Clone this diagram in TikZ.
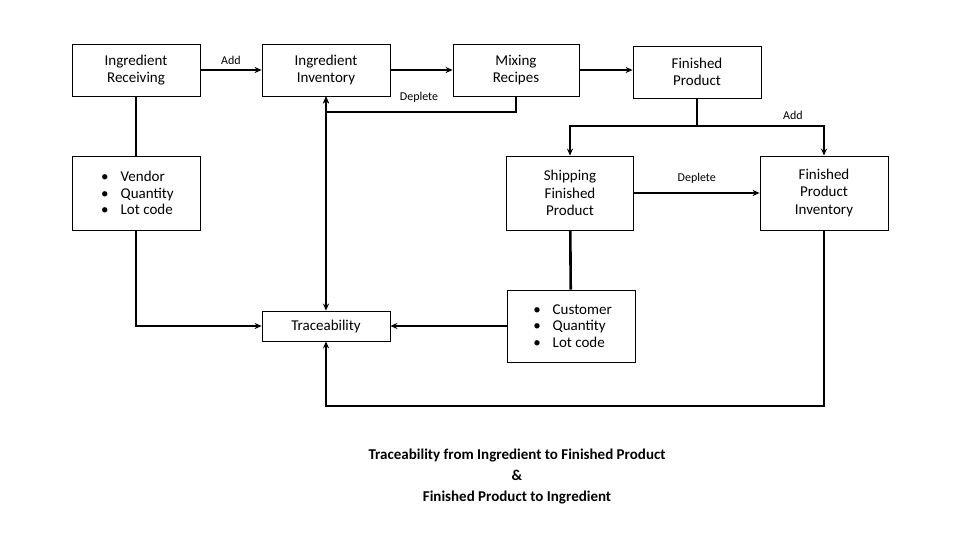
\documentclass[tikz,border=0pt]{standalone}
\usepackage{fontspec}
\setmainfont{Carlito}
\usetikzlibrary{arrows.meta, positioning, calc}
\begin{document}
\begin{tikzpicture}[
    x=1pt, y=-1pt,
    box/.style={draw, line width=0.8pt, rectangle, align=center, inner sep=0pt, font=\fontsize{15}{21.5}\selectfont},
    lbl/.style={font=\fontsize{12}{14}\selectfont},
    link/.style={line width=2.6pt},
    >={Stealth[length=7pt, width=6pt]}
]
    \useasboundingbox (0,0) rectangle (960,540);
    % Nodes
    \node[box, minimum width=128pt, minimum height=52pt] (recv) at (136,70) {Ingredient\\[-4pt]Receiving};
    \node[box, minimum width=128pt, minimum height=52pt] (inv) at (326,70) {Ingredient\\[-4pt]Inventory};
    \node[box, minimum width=126pt, minimum height=52pt] (mix) at (516,70) {Mixing\\[-4pt]Recipes};
    \node[box, minimum width=128pt, minimum height=52pt] (fp) at (697,72) {Finished\\[-4pt]Product};
    \node[box, minimum width=128pt, minimum height=74pt, align=left] (vend) at (136,193)
        {\hspace{3pt}\textbullet\hspace{12pt}Vendor\hspace{44pt}\\[-5pt]\hspace{3pt}\textbullet\hspace{12pt}Quantity\\[-5pt]\hspace{3pt}\textbullet\hspace{12pt}Lot code};
    \node[box, minimum width=127pt, minimum height=74pt] (ship) at (570,193) {Shipping\\[-4pt]Finished\\[-4pt]Product};
    \node[box, minimum width=128pt, minimum height=74pt] (fpi) at (824,193) {Finished\\[-4pt]Product\\[-4pt]Inventory};
    \node[box, minimum width=128pt, minimum height=30pt] (trace) at (326,326) {Traceability};
    \node[box, minimum width=128pt, minimum height=72pt, align=left] (cust) at (571,326)
        {\hspace{3pt}\textbullet\hspace{12pt}Customer\hspace{30pt}\\[-5pt]\hspace{3pt}\textbullet\hspace{12pt}Quantity\\[-5pt]\hspace{3pt}\textbullet\hspace{12pt}Lot code};
    \node[font=\bfseries\fontsize{15}{21}\selectfont, align=center] (title) at (517,477)
        {Traceability from Ingredient to Finished Product\\\&\\Finished Product to Ingredient};

    % Connections
    \draw[link] (recv) -- (vend);
    \draw[link, ->] (recv) -- (inv) node[lbl, midway, above=1pt] {Add};
    \draw[link, ->] (inv) -- (mix);
    \draw[link, ->] (mix.east) -- (fp.west |- mix.east);
    \draw[link, ->] (mix.south) |- (326,112) -- (inv.south);
    \node[lbl] (dep1) at (419,97) {Deplete};
    \draw[link, <->] (inv.south) -- (trace.north);
    \draw[link] (fp.south) -- (697,126) coordinate (split);
    \draw[link, ->] (split) -| (ship.north);
    \draw[link, ->] (split) -| (fpi.north);
    \node[lbl] (add2) at (793,115) {Add};
    \draw[link, ->] (ship) -- (fpi) node[lbl, midway, above=5pt] {Deplete};
    \draw[link] (ship) -- (cust);
    \draw[link, ->] (cust) -- (trace);
    \draw[link, ->] (vend.south) |- (trace.west);
    \draw[link, ->] (fpi.south) |- (326,406) -- (trace.south);
\end{tikzpicture}
\end{document}
